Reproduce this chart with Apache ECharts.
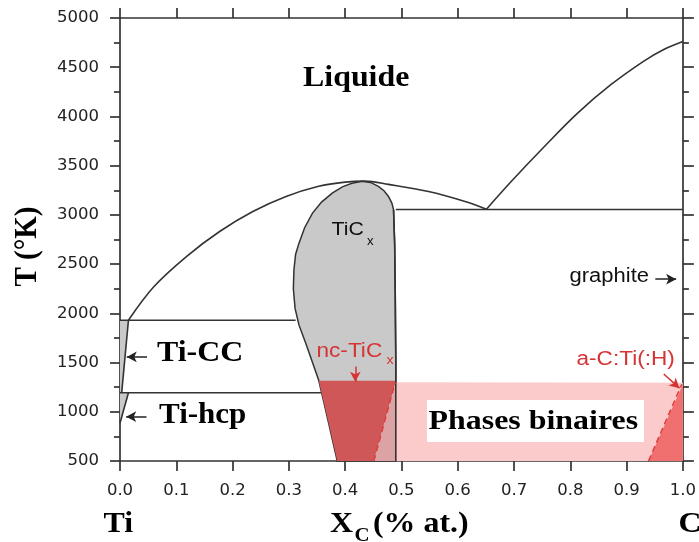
<!DOCTYPE html>
<html><head><meta charset="utf-8">
<script src="https://cdn.jsdelivr.net/npm/echarts@6/dist/echarts.min.js"></script>
<style>html,body{margin:0;padding:0;background:#fff}#c{width:699px;height:542px}</style>
</head><body><div id="c"></div>
<script>
// ---- tick labels ----
const xTickLabels = ['0.0','0.1','0.2','0.3','0.4','0.5','0.6','0.7','0.8','0.9','1.0'];
const yTickLabels = ['500','1000','1500','2000','2500','3000','3500','4000','4500','5000'];

// ---- phase boundaries [X_C, T(K)] ----
const liquidusLeft = [[0.015,1930],[0.06,2270],[0.118,2577],[0.177,2831],[0.236,3034],[0.295,3187],[0.353,3290],[0.40,3333],[0.435,3343],[0.477,3310],[0.548,3237],[0.613,3136],[0.651,3058]];
const liquidusRight = [[0.651,3058],[0.695,3339],[0.754,3695],[0.813,4034],[0.872,4322],[0.930,4560],[0.966,4680],[1.0,4762]];
const eutecticLine = [[0.49,3055],[1.0,3055]];
const tiCCLine = [[0,1930],[0.312,1930]];
const eutectoidLine = [[0,1194],[0.357,1194]];
const tiCCEdge = [[0.003,1194],[0.015,1930]];
const tiHcpEdge = [[0,886],[0.015,1194]];
const tiCRightEdge = [[0.486,3051],[0.488,2700],[0.489,2200],[0.490,1500],[0.490,500]];
const tiCxRegion = [[0.386,500],[0.378,700],[0.370,900],[0.362,1100],[0.353,1320],[0.342,1500],[0.330,1696],[0.318,1880],[0.311,2050],[0.308,2250],[0.309,2441],[0.312,2600],[0.318,2713],[0.328,2870],[0.342,3018],[0.358,3130],[0.377,3221],[0.395,3285],[0.412,3322],[0.43,3342],[0.445,3330],[0.459,3289],[0.469,3245],[0.477,3187],[0.483,3120],[0.486,3051],[0.488,2700],[0.489,2200],[0.490,1500],[0.490,500]];
const tiCCRegion = [[0,1194],[0.003,1194],[0.015,1930],[0,1930]];
const tiHcpRegion = [[0,886],[0.015,1194],[0,1194]];
const binaryBand = [[0.49,500],[1.0,500],[1.0,1295],[0.49,1300]];
const ncTiCRegion = [[0.353,1315],[0.49,1315],[0.489,1290],[0.451,500],[0.386,500],[0.378,700],[0.370,900],[0.362,1100]];
const ncTiCLight = [[0.451,500],[0.49,500],[0.49,1290]];
const aCRegion = [[0.939,500],[1.0,500],[1.0,1280]];
const ncDash = [[0.451,500],[0.489,1300]];
const aCDash = [[0.939,500],[0.998,1280]];
// annotation arrows
const arrowTiCC = [[0.048,1557],[0.012,1557]];
const arrowTiHcp = [[0.047,950],[0.011,950]];
const arrowGraphite = [[0.951,2347],[0.988,2347]];
const arrowNc = [[0.418,1459],[0.418,1305]];
const arrowAC = [[0.966,1384],[0.994,1240]];

const LINE = '#333';
const RED = '#d63434';

function polySeries(points, fill, stroke, z) {
  return {
    type: 'custom', data: points, z: z || 2, silent: true,
    renderItem: function (params, api) {
      if (params.dataIndex !== 0) return;
      const pts = points.map(p => api.coord(p));
      return { type: 'polygon', shape: { points: pts },
        style: { fill: fill, stroke: stroke || 'none', lineWidth: stroke ? 1.5 : 0 } };
    }
  };
}
function lineSeries(points, opts) {
  opts = opts || {};
  return {
    type: 'line', data: points, symbol: 'none', silent: true, z: opts.z || 3,
    smooth: opts.smooth || false,
    lineStyle: { color: opts.color || LINE, width: opts.width || 1.6, type: opts.type || 'solid' }
  };
}
function arrow(points, color) {
  return [{ coord: points[0], lineStyle: { color: color } }, { coord: points[1] }];
}

const axisLineStyle = { color: '#333', width: 1.7 };
const chart = echarts.init(document.getElementById('c'));
chart.setOption({
  animation: false,
  backgroundColor: '#fff',
  grid: { left: 120, right: 13, top: 18, bottom: 81 },
  xAxis: [
    { type: 'value', min: 0, max: 1, interval: 0.1, position: 'bottom',
      axisLine: { show: true, onZero: false, lineStyle: axisLineStyle },
      axisTick: { show: true, length: 10, lineStyle: axisLineStyle },
      axisLabel: { fontSize: 16.5, fontFamily: 'DejaVu Sans', color: '#222', margin: 21,
        formatter: v => xTickLabels[Math.round(v * 10)] },
      splitLine: { show: false } },
    { type: 'value', min: 0, max: 1, interval: 0.1, position: 'top',
      axisLine: { show: true, onZero: false, lineStyle: axisLineStyle },
      axisTick: { show: true, length: 10, lineStyle: axisLineStyle },
      axisLabel: { show: false }, splitLine: { show: false } }
  ],
  yAxis: [
    { type: 'value', min: 500, max: 5000, interval: 500, position: 'left',
      axisLine: { show: true, onZero: false, lineStyle: axisLineStyle },
      axisTick: { show: true, length: 10, lineStyle: axisLineStyle },
      minorTick: { show: true, splitNumber: 2, length: 6, lineStyle: axisLineStyle },
      axisLabel: { fontSize: 16.5, fontFamily: 'DejaVu Sans', color: '#222', margin: 21,
        formatter: v => yTickLabels[Math.round((v - 500) / 500)] },
      splitLine: { show: false }, minorSplitLine: { show: false } },
    { type: 'value', min: 500, max: 5000, interval: 500, position: 'right',
      axisLine: { show: true, onZero: false, lineStyle: axisLineStyle },
      axisTick: { show: true, length: 11, lineStyle: axisLineStyle },
      minorTick: { show: true, splitNumber: 2, length: 6, lineStyle: axisLineStyle },
      axisLabel: { show: false }, splitLine: { show: false }, minorSplitLine: { show: false } }
  ],
  series: [
    polySeries(tiCxRegion, '#c9c9c9', LINE, 2),
    polySeries(tiCCRegion, '#c9c9c9', null, 2),
    polySeries(tiHcpRegion, '#c9c9c9', null, 2),
    polySeries(binaryBand, '#fbcaca', null, 2),
    polySeries(ncTiCRegion, '#cf5757', null, 2),
    polySeries(ncTiCLight, '#dba3a3', null, 2),
    polySeries(aCRegion, '#f07070', null, 2),
    lineSeries(liquidusLeft, { smooth: 0.35 }),
    lineSeries(liquidusRight, { smooth: 0.35 }),
    lineSeries(eutecticLine),
    lineSeries(tiCCLine),
    lineSeries(eutectoidLine),
    lineSeries(tiCCEdge),
    lineSeries(tiHcpEdge),
    lineSeries(tiCRightEdge),
    lineSeries(ncDash, { color: '#e03a3a', type: [6, 4], width: 1.5 }),
    lineSeries(aCDash, { color: '#e03a3a', type: [6, 4], width: 1.5 }),
    { type: 'line', data: [], silent: true, z: 4,
      markLine: { silent: true, symbol: ['none', 'arrow'], symbolSize: [8, 10], animation: false,
        label: { show: false },
        lineStyle: { type: 'solid', width: 1.5, color: '#222' },
        data: [ arrow(arrowTiCC, '#222'), arrow(arrowTiHcp, '#222'), arrow(arrowGraphite, '#222'),
                arrow(arrowNc, RED), arrow(arrowAC, RED) ] } }
  ],
  graphic: [
    { type: 'rect', z: 50, shape: { x: 427, y: 400, width: 217, height: 42 }, style: { fill: '#fff' } },
    { type: 'text', z: 51, x: 303, y: 78.5, scaleX: 1.1, style: { text: 'Liquide', font: 'bold 29px "Liberation Serif"', fill: '#000', textAlign: 'left', textVerticalAlign: 'middle' } },
    { type: 'text', z: 51, x: 157, y: 353.5, scaleX: 1.1, style: { text: 'Ti-CC', font: 'bold 29px "Liberation Serif"', fill: '#000', textAlign: 'left', textVerticalAlign: 'middle' } },
    { type: 'text', z: 51, x: 159, y: 416, scaleX: 1.07, style: { text: 'Ti-hcp', font: 'bold 29px "Liberation Serif"', fill: '#000', textAlign: 'left', textVerticalAlign: 'middle' } },
    { type: 'text', z: 51, x: 428.5, y: 422, scaleX: 1.14, style: { text: 'Phases binaires', font: 'bold 28px "Liberation Serif"', fill: '#000', textAlign: 'left', textVerticalAlign: 'middle' } },
    { type: 'text', z: 51, x: 331.5, y: 229.5, scaleX: 1.12, style: { text: 'TiC', font: '19px "Liberation Sans"', fill: '#111', textAlign: 'left', textVerticalAlign: 'middle' } },
    { type: 'text', z: 51, x: 367, y: 241.5, scaleX: 1.1, style: { text: 'x', font: '12px "Liberation Sans"', fill: '#111', textAlign: 'left', textVerticalAlign: 'middle' } },
    { type: 'text', z: 51, x: 316.5, y: 351.5, scaleX: 1.13, style: { text: 'nc-TiC', font: '20px "Liberation Sans"', fill: RED, textAlign: 'left', textVerticalAlign: 'middle' } },
    { type: 'text', z: 51, x: 386.5, y: 360.5, scaleX: 1.1, style: { text: 'x', font: '13px "Liberation Sans"', fill: RED, textAlign: 'left', textVerticalAlign: 'middle' } },
    { type: 'text', z: 51, x: 569.5, y: 276.5, scaleX: 1.1, style: { text: 'graphite', font: '20px "Liberation Sans"', fill: '#111', textAlign: 'left', textVerticalAlign: 'middle' } },
    { type: 'text', z: 51, x: 576.5, y: 359.5, scaleX: 1.13, style: { text: 'a-C:Ti(:H)', font: '20px "Liberation Sans"', fill: RED, textAlign: 'left', textVerticalAlign: 'middle' } },
    { type: 'text', z: 51, x: 27.5, y: 246.5, rotation: Math.PI / 2, scaleY: 1.1, style: { text: 'T (°K)', font: 'bold 29px "Liberation Serif"', fill: '#000', textAlign: 'center', textVerticalAlign: 'middle' } },
    { type: 'text', z: 51, x: 103.5, y: 525, scaleX: 1.1, style: { text: 'Ti', font: 'bold 29px "Liberation Serif"', fill: '#000', textAlign: 'left', textVerticalAlign: 'middle' } },
    { type: 'text', z: 51, x: 330, y: 525, scaleX: 1.1, style: { text: 'X', font: 'bold 29px "Liberation Serif"', fill: '#000', textAlign: 'left', textVerticalAlign: 'middle' } },
    { type: 'text', z: 51, x: 354.5, y: 536, scaleX: 1.1, style: { text: 'C', font: 'bold 19px "Liberation Serif"', fill: '#000', textAlign: 'left', textVerticalAlign: 'middle' } },
    { type: 'text', z: 51, x: 373, y: 525, scaleX: 1.1, style: { text: '(% at.)', font: 'bold 29px "Liberation Serif"', fill: '#000', textAlign: 'left', textVerticalAlign: 'middle' } },
    { type: 'text', z: 51, x: 678.5, y: 525, scaleX: 1.1, style: { text: 'C', font: 'bold 29px "Liberation Serif"', fill: '#000', textAlign: 'left', textVerticalAlign: 'middle' } }
  ]
});
</script>
</body></html>
